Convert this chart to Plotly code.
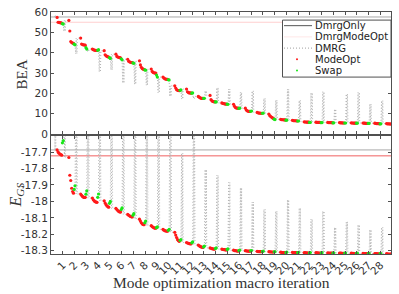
import plotly.graph_objects as go

# ---------------- data ----------------
iterations = list(range(1, 29))
# position of micro steps inside one macro iteration
modeopt_frac = [0.52, 0.60, 0.68, 0.76, 0.84, 0.91]
swap_frac = [0.97, 1.04]
dmrg_frac = [0.04, 0.10, 0.14, 0.20, 0.24]
dmrg0_frac = [0.30, 0.34, 0.38, 0.42]

dmrgonly_bea = 57.6
dmrgmodeopt_bea = 55.0
dmrgonly_egs = -17.687
dmrgmodeopt_egs = -17.723

dmrg0_bea = [58.0, 57.2, 58.5, 57.5]
dmrg0_egs = [-17.40, -17.69, -17.40, -17.69]

modeopt_bea = [
    [57.4, 55.0, 54.9, 54.8, 54.7, 54.6],
    [55.9, 50.7, 45.5, 45.0, 44.8, 44.6],
    [47.2, 44.3, 44.0, 43.9, 43.8, 43.7],
    [41.8, 41.5, 41.3, 41.2, 41.2, 41.1],
    [41.0, 39.0, 38.5, 38.2, 38.0, 37.9],
    [39.3, 38.2, 37.9, 37.7, 37.6, 37.5],
    [36.8, 35.8, 35.5, 35.3, 35.2, 35.1],
    [36.0, 34.0, 32.8, 32.2, 31.9, 31.7],
    [32.0, 30.8, 30.3, 30.1, 30.0, 30.0],
    [28.0, 27.5, 27.2, 27.0, 26.9, 26.9],
    [23.7, 22.6, 21.8, 21.5, 21.4, 21.3],
    [22.1, 20.8, 20.4, 20.2, 20.2, 20.1],
    [18.5, 18.1, 17.8, 17.6, 17.5, 17.5],
    [19.0, 16.9, 16.3, 16.0, 15.9, 15.8],
    [15.3, 15.1, 15.0, 14.8, 14.7, 14.7],
    [14.6, 13.6, 13.0, 12.8, 12.7, 12.7],
    [12.7, 11.8, 11.4, 11.2, 11.1, 11.1],
    [10.6, 10.4, 10.3, 10.3, 10.2, 10.2],
    [9.8, 9.0, 8.6, 8.2, 7.9, 7.6],
    [7.2, 7.1, 7.0, 7.0, 6.9, 6.9],
    [6.7, 6.6, 6.5, 6.5, 6.5, 6.4],
    [6.0, 5.9, 5.9, 5.8, 5.8, 5.8],
    [5.8, 5.7, 5.7, 5.7, 5.7, 5.6],
    [5.7, 5.6, 5.6, 5.6, 5.6, 5.5],
    [5.6, 5.5, 5.5, 5.5, 5.4, 5.4],
    [5.5, 5.4, 5.4, 5.3, 5.3, 5.3],
    [5.4, 5.3, 5.3, 5.2, 5.2, 5.2],
    [5.3, 5.2, 5.1, 5.1, 5.1, 5.0],
    [5.1, 5.0, 5.0, 5.0, 4.9, 4.9],
]
swap_bea = [
    [54.3, 54.1], [44.2, 43.9], [42.5, 41.8], [41.2, 41.5], [37.6, 37.2],
    [37.0, 36.5], [35.0, 34.8], [31.6, 31.4], [29.0, 28.0], [26.7, 26.6],
    [21.5, 21.7], [20.1, 20.2], [17.5, 17.6], [15.8, 15.8], [14.7, 14.6],
    [12.6, 12.7], [11.2, 11.3], [10.2, 10.3], [7.3, 7.1], [6.8, 6.8],
    [6.4, 6.4], [5.7, 5.7], [5.6, 5.6], [5.5, 5.5], [5.4, 5.4],
    [5.3, 5.3], [5.2, 5.2], [5.0, 5.0],
]
dmrg_bea_ext = [50.5, 39.5, 40.5, 30.5, 31.5, 25.0, 24.5, 24.0, 20.3, 18.5,
                17.2, 17.5, 21.3, 22.8, 22.1, 20.5, 21.2, 17.5, 16.7, 22.0,
                16.5, 20.3, 20.8, 12.3, 19.7, 20.5, 14.8, 16.4]

modeopt_egs = [
    [-17.687, -17.700, -17.707, -17.712, -17.715, -17.719],
    [-17.733, -17.841, -17.873, -17.920, -17.940, -17.950],
    [-17.955, -17.963, -17.970, -17.975, -17.976, -17.975],
    [-17.980, -17.990, -17.997, -18.002, -18.005, -18.006],
    [-17.996, -18.010, -18.020, -18.028, -18.033, -18.035],
    [-18.043, -18.050, -18.056, -18.061, -18.064, -18.065],
    [-18.079, -18.084, -18.088, -18.092, -18.094, -18.095],
    [-18.108, -18.120, -18.130, -18.137, -18.141, -18.142],
    [-18.148, -18.153, -18.158, -18.161, -18.163, -18.163],
    [-18.170, -18.175, -18.178, -18.180, -18.181, -18.181],
    [-18.188, -18.205, -18.220, -18.233, -18.240, -18.243],
    [-18.250, -18.253, -18.255, -18.257, -18.258, -18.258],
    [-18.266, -18.270, -18.274, -18.277, -18.279, -18.280],
    [-18.283, -18.285, -18.287, -18.289, -18.290, -18.290],
    [-18.290, -18.292, -18.293, -18.294, -18.295, -18.295],
    [-18.297, -18.299, -18.300, -18.301, -18.302, -18.302],
    [-18.300, -18.301, -18.302, -18.302, -18.303, -18.303],
    [-18.304, -18.305, -18.305, -18.306, -18.306, -18.306],
    [-18.306, -18.307, -18.307, -18.308, -18.308, -18.308],
    [-18.309, -18.310, -18.311, -18.312, -18.312, -18.312],
    [-18.310, -18.311, -18.312, -18.312, -18.312, -18.313],
    [-18.311, -18.312, -18.313, -18.313, -18.314, -18.314],
    [-18.312, -18.313, -18.313, -18.314, -18.314, -18.314],
    [-18.313, -18.314, -18.314, -18.315, -18.315, -18.315],
    [-18.314, -18.315, -18.315, -18.316, -18.316, -18.316],
    [-18.315, -18.316, -18.316, -18.317, -18.317, -18.317],
    [-18.316, -18.317, -18.317, -18.318, -18.318, -18.318],
    [-18.317, -18.318, -18.318, -18.319, -18.319, -18.319],
    [-18.318, -18.319, -18.320, -18.320, -18.320, -18.320],
]
swap_egs = [
    [-17.644, -17.630], [-17.927, -17.905], [-17.956, -17.936], [-17.975, -17.955],
    [-18.012, -18.000], [-18.050, -18.040], [-18.084, -18.075], [-18.130, -18.120],
    [-18.160, -18.155], [-18.176, -18.170], [-18.238, -18.232], [-18.252, -18.246],
    [-18.277, -18.272], [-18.287, -18.283], [-18.292, -18.289], [-18.300, -18.297],
    [-18.301, -18.299], [-18.305, -18.303], [-18.307, -18.306], [-18.311, -18.309],
    [-18.311, -18.310], [-18.313, -18.311], [-18.313, -18.312], [-18.314, -18.313],
    [-18.315, -18.314], [-18.316, -18.315], [-18.317, -18.316], [-18.318, -18.317],
]
dmrg_egs_peak = [-17.40, -17.40, -17.40, -17.40, -17.40, -17.40, -17.40, -17.40,
                 -17.40, -17.40, -17.707, -17.40, -17.806, -17.841, -17.885,
                 -17.917, -18.004, -18.049, -18.059, -17.990, -18.040, -18.108,
                 -18.059, -18.158, -18.124, -18.142, -18.172, -18.158]

x_tick_labels = [str(i) for i in iterations]
bea_ticks = [0, 10, 20, 30, 40, 50, 60]
egs_ticks = [-18.3, -18.2, -18.1, -18.0, -17.9, -17.8, -17.7]
egs_tick_labels = ["-18.3", "-18.2", "-18.1", "-18", "-17.9", "-17.8", "-17.7"]

# ---------------- build series ----------------
def build(modeopt, swap, ext, dmrg0):
    mx, my, sx, sy = [], [], [], []
    for i, row in enumerate(modeopt):
        for f, v in zip(modeopt_frac, row):
            mx.append(i + f)
            my.append(v)
    for i, row in enumerate(swap):
        for f, v in zip(swap_frac, row):
            sx.append(i + f)
            sy.append(v)
    dx = list(dmrg0_frac) + [modeopt_frac[0]]
    dy = list(dmrg0) + [modeopt[0][0]]
    dx.append(None)
    dy.append(None)
    for k in iterations:
        base = modeopt[k][0]
        vals = [swap[k - 1][1], ext[k - 1], base, ext[k - 1], base]
        for f, v in zip(dmrg_frac, vals):
            dx.append(k + f)
            dy.append(v)
        dx.append(k + modeopt_frac[0])
        dy.append(base)
        dx.append(None)
        dy.append(None)
    return mx, my, sx, sy, dx, dy

XMAX = 28.9
fig = go.Figure()
RED = "#ff1a1a"
GREEN = "#19e619"

panels = [
    ("x", "y", modeopt_bea, swap_bea, dmrg_bea_ext, dmrg0_bea,
     dmrgonly_bea, dmrgmodeopt_bea, "rgba(255,120,120,0.35)"),
    ("x2", "y2", modeopt_egs, swap_egs, dmrg_egs_peak, dmrg0_egs,
     dmrgonly_egs, dmrgmodeopt_egs, "#f06060"),
]
for xa, ya, mo, sw, ex, d0, only, mopt, mcol in panels:
    mx, my, sx, sy, dx, dy = build(mo, sw, ex, d0)
    fig.add_trace(go.Scatter(x=[0, XMAX], y=[only, only], mode="lines",
                             line=dict(color="#a8a8a8", width=1),
                             xaxis=xa, yaxis=ya, showlegend=False, hoverinfo="skip"))
    fig.add_trace(go.Scatter(x=[0, XMAX], y=[mopt, mopt], mode="lines",
                             line=dict(color=mcol, width=1),
                             xaxis=xa, yaxis=ya, showlegend=False, hoverinfo="skip"))
    fig.add_trace(go.Scatter(x=dx, y=dy, mode="lines", connectgaps=False,
                             line=dict(color="#b4b4b4", width=1, dash="1px,2px"),
                             xaxis=xa, yaxis=ya, showlegend=False, hoverinfo="skip"))
    fig.add_trace(go.Scatter(x=mx, y=my, mode="markers",
                             marker=dict(color=RED, size=3.2, symbol="circle", line=dict(width=0)),
                             xaxis=xa, yaxis=ya, showlegend=False, cliponaxis=True))
    fig.add_trace(go.Scatter(x=sx, y=sy, mode="markers",
                             marker=dict(color=GREEN, size=3.2, symbol="circle", line=dict(width=0)),
                             xaxis=xa, yaxis=ya, showlegend=False, cliponaxis=True))

# ---------------- layout ----------------
W, H = 399, 294
L, R, T, B = 51, 391, 6, 254

def px(x):
    return (x - L) / (R - L)

def py(y):
    return (B - y) / (B - T)

axis_common = dict(showline=True, linecolor="#505050", linewidth=1, mirror="ticks",
                   ticks="inside", ticklen=3, tickcolor="#505050", tickwidth=1,
                   showgrid=False, zeroline=False, ticklabeloverflow="allow",
                   tickfont=dict(family="DejaVu Sans", size=10.5, color="#333333"))

fig.update_layout(
    width=W, height=H,
    margin=dict(l=L, r=W - R, t=T, b=H - B, pad=0),
    paper_bgcolor="white", plot_bgcolor="white",
    showlegend=False,
    xaxis=dict(domain=[0, 1], anchor="y", range=[0, XMAX], tickvals=iterations,
               showticklabels=False, **axis_common),
    yaxis=dict(domain=[py(131), 1], anchor="x", range=[0, 60.05], tickvals=bea_ticks,
               **axis_common),
    xaxis2=dict(domain=[0, 1], anchor="y2", range=[0, XMAX], tickvals=iterations,
                ticktext=x_tick_labels, tickangle=-45, **axis_common),
    yaxis2=dict(domain=[0, py(132.7)], anchor="x2", range=[-18.32, -17.6],
                tickvals=egs_ticks, ticktext=egs_tick_labels, **axis_common),
)

serif = "Liberation Serif"
ann = [
    dict(text="Mode optimization macro iteration", x=0.5, y=py(283), xref="paper", yref="paper",
         xanchor="center", yanchor="middle", showarrow=False,
         font=dict(family=serif, size=15.5, color="#333333")),
    dict(text="BEA", x=px(22), y=py(70), xref="paper", yref="paper", textangle=-90,
         xanchor="center", yanchor="middle", showarrow=False,
         font=dict(family=serif, size=15, color="#333333")),
    dict(text="<i>E</i><sub><i>GS</i></sub>", x=px(16), y=py(194), xref="paper", yref="paper",
         textangle=-90, xanchor="center", yanchor="middle", showarrow=False,
         font=dict(family=serif, size=16, color="#333333")),
]

# legend (drawn manually to match compact row spacing)
legend_names = ["DmrgOnly", "DmrgModeOpt", "DMRG", "ModeOpt", "Swap"]
rows = [20, 31.5, 43, 54.5, 66]
shapes = [dict(type="rect", xref="paper", yref="paper", x0=px(282.5), x1=px(391),
               y0=py(72.7), y1=py(14.3), line=dict(color="#505050", width=1),
               fillcolor="white", layer="above")]
for name, yy in zip(legend_names, rows):
    ann.append(dict(text=name, x=px(313), y=py(yy), xref="paper", yref="paper",
                    xanchor="left", yanchor="middle", showarrow=False,
                    font=dict(family="DejaVu Sans", size=10, color="#222222")))
shapes.append(dict(type="line", xref="paper", yref="paper", x0=px(284), x1=px(312),
                   y0=py(rows[0]), y1=py(rows[0]), line=dict(color="#555555", width=1), layer="above"))
shapes.append(dict(type="line", xref="paper", yref="paper", x0=px(284), x1=px(312),
                   y0=py(rows[1]), y1=py(rows[1]), line=dict(color="rgba(255,160,160,0.25)", width=1), layer="above"))
shapes.append(dict(type="line", xref="paper", yref="paper", x0=px(284), x1=px(312),
                   y0=py(rows[2]), y1=py(rows[2]), line=dict(color="#a0a0a0", width=1, dash="1px,2px"), layer="above"))
for col, yy in [(RED, rows[3]), (GREEN, rows[4])]:
    shapes.append(dict(type="circle", xref="paper", yref="paper", x0=px(296), x1=px(298),
                       y0=py(yy + 1), y1=py(yy - 1), fillcolor=col, line=dict(width=0), layer="above"))

fig.update_layout(annotations=ann, shapes=shapes)
# remove the browser's default 8px page margin so the figure sits at the window origin
fig.write_html("out.html", config={"displayModeBar": False},
               post_script="document.body.style.margin='0px';document.body.style.overflow='hidden';")
